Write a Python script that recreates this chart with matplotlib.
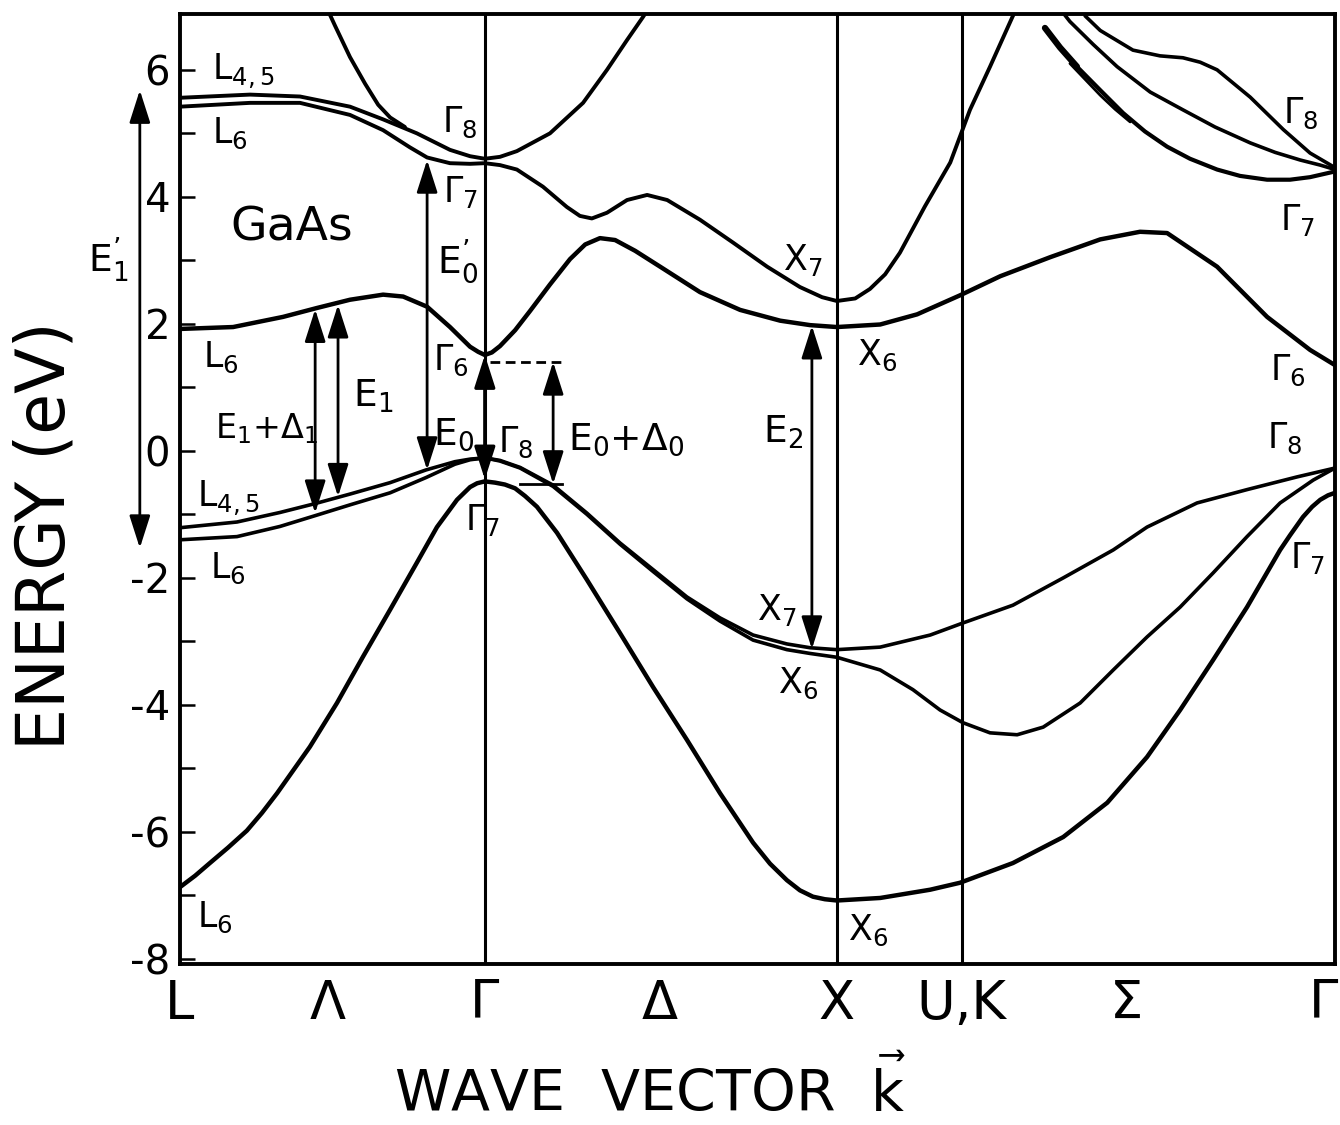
import matplotlib
matplotlib.use('Agg')
import matplotlib.pyplot as plt
import numpy as np

plt.rcParams['font.family'] = ['DejaVu Sans']
plt.rcParams['mathtext.default'] = 'regular'
plt.rcParams['axes.unicode_minus'] = False

# path L - Gamma - X - U,K - Gamma (k in units of 2pi/a)
k_L, k_G, k_X, k_UK, k_G2 = 0.0, 0.866, 1.866, 2.220, 3.281
tick_k = [0.0, 0.42, 0.866, 1.364, 1.866, 2.220, 2.685, 3.248]
tick_lab = ['L', r'$\Lambda$', r'$\Gamma$', r'$\Delta$', 'X', 'U,K', r'$\Sigma$', r'$\Gamma$']

# valence bands
v1_k = [0.000, 0.043, 0.085, 0.136, 0.190, 0.233, 0.276, 0.369, 0.446, 0.520, 0.597, 0.673, 0.730, 0.787,
        0.824, 0.844, 0.866, 0.895, 0.923, 0.952, 0.980, 1.014, 1.071, 1.156, 1.250, 1.344, 1.440, 1.534,
        1.628, 1.676, 1.724, 1.761, 1.798, 1.832, 1.866,
        1.989, 2.131, 2.216, 2.366, 2.509, 2.634, 2.747, 2.841, 2.935, 3.031, 3.125, 3.153, 3.190, 3.216,
        3.239, 3.261, 3.281]
v1_E = [-6.87, -6.69, -6.49, -6.25, -5.98, -5.70, -5.39, -4.66, -3.97, -3.24, -2.50, -1.76, -1.20, -0.77,
        -0.57, -0.51, -0.48, -0.50, -0.53, -0.59, -0.71, -0.88, -1.29, -2.03, -2.87, -3.72, -4.55, -5.39,
        -6.17, -6.50, -6.76, -6.92, -7.02, -7.06, -7.08,
        -7.04, -6.91, -6.80, -6.49, -6.08, -5.54, -4.82, -4.08, -3.29, -2.46, -1.56, -1.33, -1.04, -0.88,
        -0.77, -0.70, -0.66]

v2_k = [0.000, 0.162, 0.284, 0.384, 0.483, 0.597, 0.699, 0.781, 0.824, 0.866,
        0.909, 0.966, 1.060, 1.156, 1.250, 1.344, 1.440, 1.534, 1.628, 1.724, 1.790, 1.866,
        1.989, 2.131, 2.224, 2.366, 2.509, 2.651, 2.747, 2.889, 3.031, 3.173, 3.281]
v2_E = [-1.21, -1.12, -0.97, -0.83, -0.68, -0.50, -0.30, -0.17, -0.13, -0.11,
        -0.15, -0.26, -0.54, -0.98, -1.45, -1.87, -2.30, -2.63, -2.90, -3.04, -3.10, -3.13,
        -3.09, -2.90, -2.71, -2.43, -2.00, -1.56, -1.20, -0.82, -0.61, -0.41, -0.27]

v3_k = [0.000, 0.162, 0.284, 0.384, 0.483, 0.597, 0.699, 0.781, 0.824, 0.866,
        0.909, 0.966, 1.060, 1.156, 1.250, 1.344, 1.440, 1.534, 1.628, 1.724, 1.790, 1.866,
        1.989, 2.082, 2.159, 2.224, 2.301, 2.378, 2.452, 2.557, 2.651, 2.747, 2.841, 2.935, 3.031, 3.125,
        3.219, 3.281]
v3_E = [-1.40, -1.35, -1.19, -1.02, -0.85, -0.66, -0.42, -0.21, -0.14, -0.11,
        -0.16, -0.27, -0.56, -1.00, -1.47, -1.90, -2.33, -2.68, -2.98, -3.13, -3.19, -3.25,
        -3.45, -3.76, -4.08, -4.28, -4.44, -4.47, -4.35, -3.97, -3.45, -2.93, -2.46, -1.92, -1.35, -0.82,
        -0.46, -0.27]

# conduction bands
c1_k = [0.000, 0.151, 0.293, 0.389, 0.483, 0.577, 0.634, 0.702, 0.767, 0.824, 0.847, 0.866, 0.886,
        0.909, 0.952, 0.994, 1.051, 1.108, 1.151, 1.193, 1.236, 1.293, 1.364, 1.477, 1.591, 1.705, 1.790, 1.866,
        1.989, 2.094, 2.216, 2.330, 2.472, 2.614, 2.727, 2.804, 2.946, 3.088, 3.210, 3.281]
c1_E = [1.92, 1.95, 2.11, 2.25, 2.38, 2.46, 2.43, 2.27, 1.95, 1.64, 1.56, 1.51, 1.55,
        1.65, 1.90, 2.20, 2.62, 3.02, 3.25, 3.35, 3.32, 3.15, 2.90, 2.50, 2.22, 2.05, 1.98, 1.95,
        1.99, 2.15, 2.45, 2.75, 3.05, 3.33, 3.45, 3.43, 2.90, 2.11, 1.59, 1.35]

c2_k = [0.000, 0.199, 0.341, 0.483, 0.577, 0.653, 0.702, 0.767, 0.824, 0.866,
        0.909, 0.957, 1.031, 1.099, 1.136, 1.170, 1.213, 1.270, 1.327, 1.384, 1.477, 1.571, 1.668, 1.761,
        1.824, 1.866, 1.918, 1.960, 2.003, 2.045, 2.116, 2.188, 2.244, 2.301, 2.366, 2.386]
c2_E = [5.42, 5.48, 5.48, 5.29, 5.05, 4.78, 4.62, 4.53, 4.52, 4.53,
        4.50, 4.43, 4.16, 3.84, 3.70, 3.66, 3.75, 3.95, 4.03, 3.95, 3.64, 3.28, 2.90, 2.58,
        2.42, 2.36, 2.40, 2.55, 2.78, 3.12, 3.85, 4.54, 5.37, 6.05, 6.85, 7.05]

c3_k = [0.000, 0.199, 0.341, 0.483, 0.577, 0.673, 0.767, 0.824, 0.866,
        0.909, 0.957, 1.051, 1.145, 1.213, 1.270, 1.315, 1.335]
c3_E = [5.56, 5.61, 5.58, 5.42, 5.22, 5.00, 4.74, 4.64, 4.60,
        4.63, 4.72, 5.00, 5.48, 6.00, 6.47, 6.83, 7.00]

c4_k = [0.415, 0.440, 0.483, 0.526, 0.563, 0.597, 0.639]
c4_E = [7.00, 6.70, 6.20, 5.78, 5.45, 5.25, 5.10]

c5_k = [2.494, 2.528, 2.594, 2.662, 2.756, 2.849, 2.940, 3.040, 3.111, 3.182, 3.239, 3.281]
c5_E = [7.00, 6.76, 6.40, 6.05, 5.65, 5.37, 5.10, 4.85, 4.70, 4.58, 4.50, 4.43]

c6_k = [2.571, 2.614, 2.707, 2.784, 2.849, 2.898, 2.946, 3.040, 3.134, 3.210, 3.281]
c6_E = [6.85, 6.62, 6.31, 6.22, 6.19, 6.12, 6.00, 5.57, 5.06, 4.69, 4.46]

c7_k = [2.457, 2.500, 2.548, 2.614, 2.679, 2.741, 2.804, 2.869, 2.946, 3.011, 3.088, 3.153, 3.210, 3.281]
c7_E = [6.66, 6.35, 6.05, 5.68, 5.32, 5.03, 4.79, 4.60, 4.43, 4.33, 4.27, 4.27, 4.31, 4.40]

c7b_k = [2.528, 2.571, 2.614, 2.656, 2.699]
c7b_E = [6.10, 5.85, 5.60, 5.38, 5.18]

fig = plt.figure(figsize=(13.4, 11.25), dpi=100)
ax = fig.add_axes([0.1343, 0.1431, 0.862, 0.8445])
ax.set_xlim(k_L, k_G2)
ax.set_ylim(-8.08, 6.88)

bands = [(v1_k, v1_E, 3.2), (v2_k, v2_E, 2.6), (v3_k, v3_E, 2.6),
         (c1_k, c1_E, 3.2), (c2_k, c2_E, 2.8), (c3_k, c3_E, 2.8), (c4_k, c4_E, 2.8),
         (c5_k, c5_E, 2.6), (c6_k, c6_E, 2.6), (c7_k, c7_E, 3.0), (c7b_k, c7b_E, 2.0)]
for k, E, lw in bands:
    ax.plot(k, E, color='black', lw=lw, solid_capstyle='round', solid_joinstyle='round')
ax.plot(c7_k[:3], c7_E[:3], color='black', lw=4.5, solid_capstyle='round')

for kk in [k_G, k_X, k_UK]:
    ax.axvline(kk, color='black', lw=2.2)

for s in ax.spines.values():
    s.set_linewidth(2.8)

ax.set_yticks(np.arange(-8, 7, 2))
ax.set_yticks(np.arange(-7, 7, 2), minor=True)
ax.tick_params(axis='y', which='both', direction='in', length=11, width=1.8, labelsize=29, pad=7)
ax.set_xticks(tick_k)
ax.set_xticklabels(tick_lab)
ax.tick_params(axis='x', length=0, labelsize=38, pad=10)


def gap(k, e_lo, e_hi, lw=2.0):
    ax.annotate('', xy=(k, e_hi), xytext=(k, e_lo), annotation_clip=False,
                arrowprops=dict(arrowstyle='<|-|>,head_length=1.0,head_width=0.32', color='black',
                                lw=lw, mutation_scale=20, shrinkA=0, shrinkB=0))


def lab(k, e, s, size=25):
    ax.text(k, e, s, fontsize=size, ha='left', va='baseline')


# optical transitions
gap(-0.114, -1.53, 5.68)
gap(0.384, -0.98, 2.23)
gap(0.449, -0.72, 2.30)
gap(0.702, -0.30, 4.58)
gap(k_G, -0.45, 1.51, lw=2.4)
gap(1.060, -0.52, 1.40)
gap(1.795, -3.12, 1.97)
ax.plot([0.88, 1.085], [1.40, 1.40], color='black', lw=2.0, ls=(0, (3.5, 2)))
ax.plot([0.966, 1.085], [-0.52, -0.52], color='black', lw=2.0)

# level labels
lab(0.091, 5.84, r'$L_{4,5}$')
lab(0.091, 4.85, r'$L_6$')
lab(0.744, 5.02, r'$\Gamma_8$')
lab(0.747, 3.92, r'$\Gamma_7$')
lab(0.142, 3.32, 'GaAs', size=34)
lab(0.730, 2.80, r'$E^{’}_0$', size=27)
lab(1.713, 2.85, r'$X_7$')
lab(0.065, 1.32, r'$L_6$')
lab(0.719, 1.28, r'$\Gamma_6$')
lab(0.491, 0.69, r'$E_1$', size=27)
lab(1.923, 1.35, r'$X_6$')
lab(0.099, 0.20, r'$E_1$+$\Delta_1$', size=24)
lab(0.719, 0.09, r'$E_0$', size=27)
lab(0.903, -0.02, r'$\Gamma_8$')
lab(1.102, 0.02, r'$E_0$+$\Delta_0$', size=27)
lab(1.656, 0.13, r'$E_2$', size=27)
lab(0.048, -0.88, r'$L_{4,5}$')
lab(0.810, -1.24, r'$\Gamma_7$')
lab(0.085, -2.00, r'$L_6$')
lab(1.640, -2.66, r'$X_7$')
lab(1.700, -3.81, r'$X_6$')
lab(0.048, -7.50, r'$L_6$')
lab(1.898, -7.70, r'$X_6$')
lab(3.134, 5.17, r'$\Gamma_8$')
lab(3.125, 3.48, r'$\Gamma_7$')
lab(3.097, 1.12, r'$\Gamma_6$')
lab(3.088, 0.05, r'$\Gamma_8$')
lab(3.153, -1.84, r'$\Gamma_7$')
lab(-0.261, 2.82, r'$E^{’}_1$', size=27)

fig.text(0.0336, 0.524, 'ENERGY (eV)', rotation=90, ha='center', va='center', fontsize=48)
fig.text(0.485, 0.0116, r'WAVE  VECTOR  $\vec{k}$', ha='center', va='baseline', fontsize=41)

fig.savefig('out.png', dpi=100, facecolor='white')
